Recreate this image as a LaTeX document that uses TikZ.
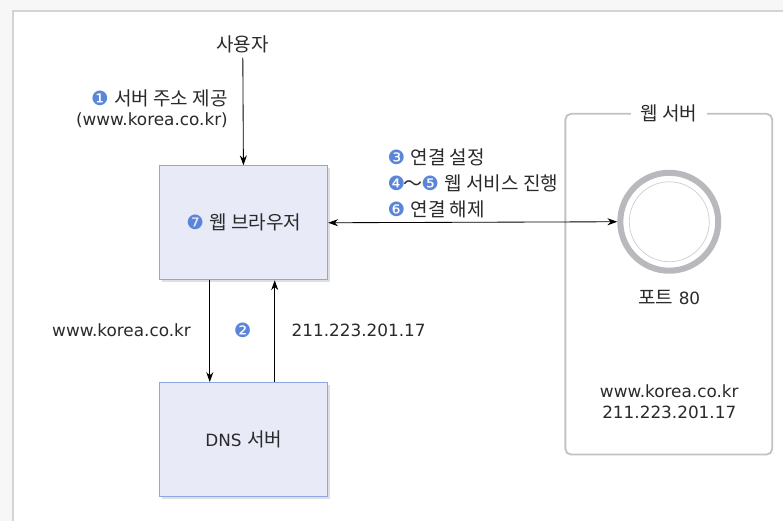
\documentclass[tikz,border=0pt]{standalone}
\usepackage{fontspec}
\setmainfont{DejaVu Sans}
\newfontfamily\kr{Noto Sans CJK KR}[Scale=1.13]
\usetikzlibrary{arrows.meta, shadows}

\definecolor{numblue}{HTML}{5A85D8}
\definecolor{boxfill}{HTML}{E8EAF7}
\definecolor{boxline}{HTML}{8EA6E3}
\definecolor{framegray}{HTML}{D4D4D4}
\definecolor{servergray}{HTML}{C2C2C4}
\definecolor{ringgray}{HTML}{B9B9BD}
\definecolor{outgray}{HTML}{F7F7F7}
\definecolor{textgray}{HTML}{2A2A2A}

\newcommand{\cnum}[1]{{\fontsize{14}{14}\selectfont\textcolor{numblue}{#1}}}

\begin{document}
\begin{tikzpicture}[x=0.025cm, y=-0.025cm,
    every node/.style={font=\fontsize{12}{14.5}\selectfont, text=textgray},
    box/.style={draw=boxline, fill=boxfill, line width=0.8pt,
        minimum width=4.2cm, minimum height=2.85cm,
        drop shadow={shadow xshift=0.06cm, shadow yshift=-0.06cm, opacity=0.25}},
    arr/.style={-{Stealth[length=7pt, width=5pt]}, line width=0.6pt},
    dblarr/.style={{Stealth[length=7pt, width=5pt]}-{Stealth[length=7pt, width=5pt]}, line width=0.6pt},
    serverbox/.style={draw=servergray, line width=1.3pt, rounded corners=4pt},
]

    % frame
    \fill[outgray] (0,0) rectangle (784,522);
    \fill[white] (13,11) rectangle (784,522);
    \draw[framegray, line width=1.2pt] (13,522) -- (13,11) -- (784,11);

    % browser and dns
    \node (user) at (243,44) {\kr 사용자};
    \node[box] (browser) at (244,223) {\cnum{❼} {\kr 웹 브라우저}};
    \node[box] (dns) at (244,440) {DNS {\kr 서버}};

    \node[anchor=east, align=right] (step1) at (233,109)
        {\cnum{❶} {\kr 서버 주소 제공}\\(www.korea.co.kr)};

    \draw[arr] (user) -- (browser);
    \draw[arr] ([xshift=-0.85cm]browser.south) -- ([xshift=-0.85cm]dns.north);
    \draw[arr] ([xshift=0.775cm]dns.north) -- ([xshift=0.775cm]browser.south);

    \node[anchor=east] (query) at (196,331) {www.korea.co.kr};
    \node (step2) at (243,331) {\cnum{❷}};
    \node[anchor=west] (answer) at (287,331) {211.223.201.17};

    % web server
    \node[serverbox, minimum width=5.175cm, minimum height=8.525cm] (server) at (669.5,284.5) {};
    \node[fill=white, inner xsep=7pt, inner ysep=1pt] (servertitle) at (server.north) {\kr 웹 서버};

    \node[circle, draw=ringgray, line width=4.3pt, minimum size=2.45cm, inner sep=0pt] (port) at (670,222) {};
    \node[circle, draw=ringgray!70, line width=0.5pt, minimum size=2cm, inner sep=0pt] (portin) at (port) {};
    \node (portlabel) at (670,298) {{\kr 포트} 80};
    \node[align=center] (webaddr) at (670,402) {www.korea.co.kr\\211.223.201.17};

    \node[anchor=west, align=left, font=\fontsize{12}{18.5}\selectfont] (step3) at (383,184)
        {\cnum{❸} {\kr 연결 설정}\\\cnum{❹}\kern-1pt{\kr ～}\kern-1pt\cnum{❺} {\kr 웹 서비스 진행}\\\cnum{❻} {\kr 연결 해제}};

    \draw[dblarr] (browser.east) -- (port.west);

\end{tikzpicture}
\end{document}
